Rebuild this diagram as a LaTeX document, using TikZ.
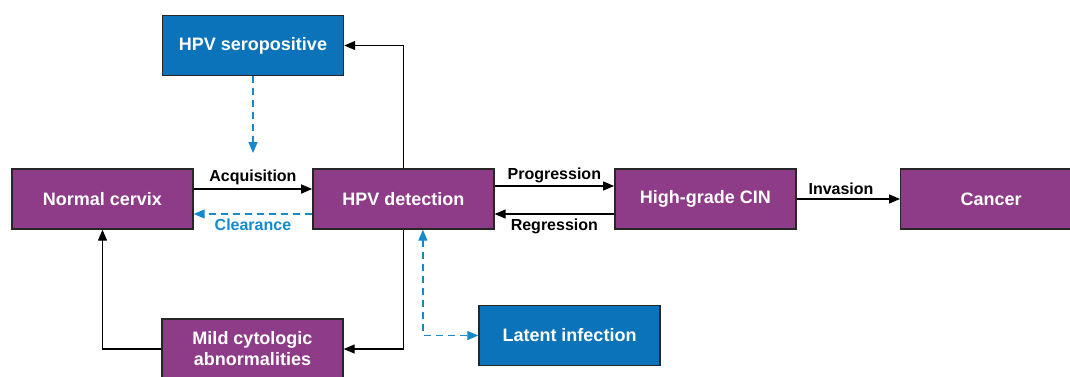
\documentclass[tikz,border=0pt]{standalone}
\usepackage{fontspec}
\setmainfont{Liberation Sans}
\usetikzlibrary{positioning}
\usetikzlibrary{arrows.meta}
\definecolor{stagepurple}{RGB}{142,60,135}
\definecolor{sideblue}{RGB}{10,115,185}
\definecolor{dashblue}{RGB}{22,137,204}
\tikzset{
  stagebox/.style={draw=black!85,line width=1.4pt,fill=stagepurple,text=white,
    minimum width=181pt,minimum height=60pt,inner sep=0pt,align=center,
    font=\fontsize{18}{21}\selectfont\bfseries},
  sidebox/.style={stagebox,fill=sideblue},
  flow/.style={line width=1.3pt,-{Triangle[length=11pt,width=9pt]}},
  dashflow/.style={dashblue,line width=1.3pt,dash pattern=on 7pt off 5pt,
    -{Triangle[length=11pt,width=9pt]}},
  lbl/.style={font=\fontsize{16}{18}\selectfont\bfseries,inner sep=4pt}
}
\begin{document}
\begin{tikzpicture}[x=1pt,y=1pt]
\useasboundingbox (0,0) rectangle (1070,-376);
\node[stagebox](normal) at (102.5,-199){Normal cervix};
\node[stagebox, right = 118.5pt of normal](hpv){HPV detection};
\node[stagebox, right = 119.5pt of hpv](cin){High-grade CIN};
\node[stagebox, right = 103.5pt of cin](cancer){Cancer};
\node[sidebox](sero) at (253,-45.5){HPV seropositive};
\node[stagebox](mild) at (252.5,-349){Mild cytologic\\abnormalities};
\node[sidebox](latent) at (569.5,-335.5){Latent infection};
\coordinate (seroend) at (253,-153);
\draw[flow] ([yshift=10pt]normal.east) -- node[lbl,above]{Acquisition} ([yshift=10pt]hpv.west);
\draw[dashflow] ([yshift=-15pt]hpv.west) -- node[lbl,below,text=dashblue]{Clearance} ([yshift=-15pt]normal.east);
\draw[flow] ([yshift=13pt]hpv.east) -- node[lbl,above,inner sep=2pt]{Progression} ([yshift=13pt]cin.west);
\draw[flow] ([yshift=-15pt]cin.west) -- node[lbl,below]{Regression} ([yshift=-15pt]hpv.east);
\draw[flow] (cin.east) -- node[lbl,above,pos=0.43]{Invasion} (cancer.west);
\draw[flow] (hpv.north) |- (sero.east);
\draw[dashflow] (sero.south) -- (seroend);
\draw[flow] (hpv.south) |- (mild.east);
\draw[flow] (mild.west) -| (normal.south);
\draw[dashflow,{Triangle[length=11pt,width=9pt]}-{Triangle[length=11pt,width=9pt]}] ([xshift=19.5pt]hpv.south) |- (latent.west);
\end{tikzpicture}
\end{document}
